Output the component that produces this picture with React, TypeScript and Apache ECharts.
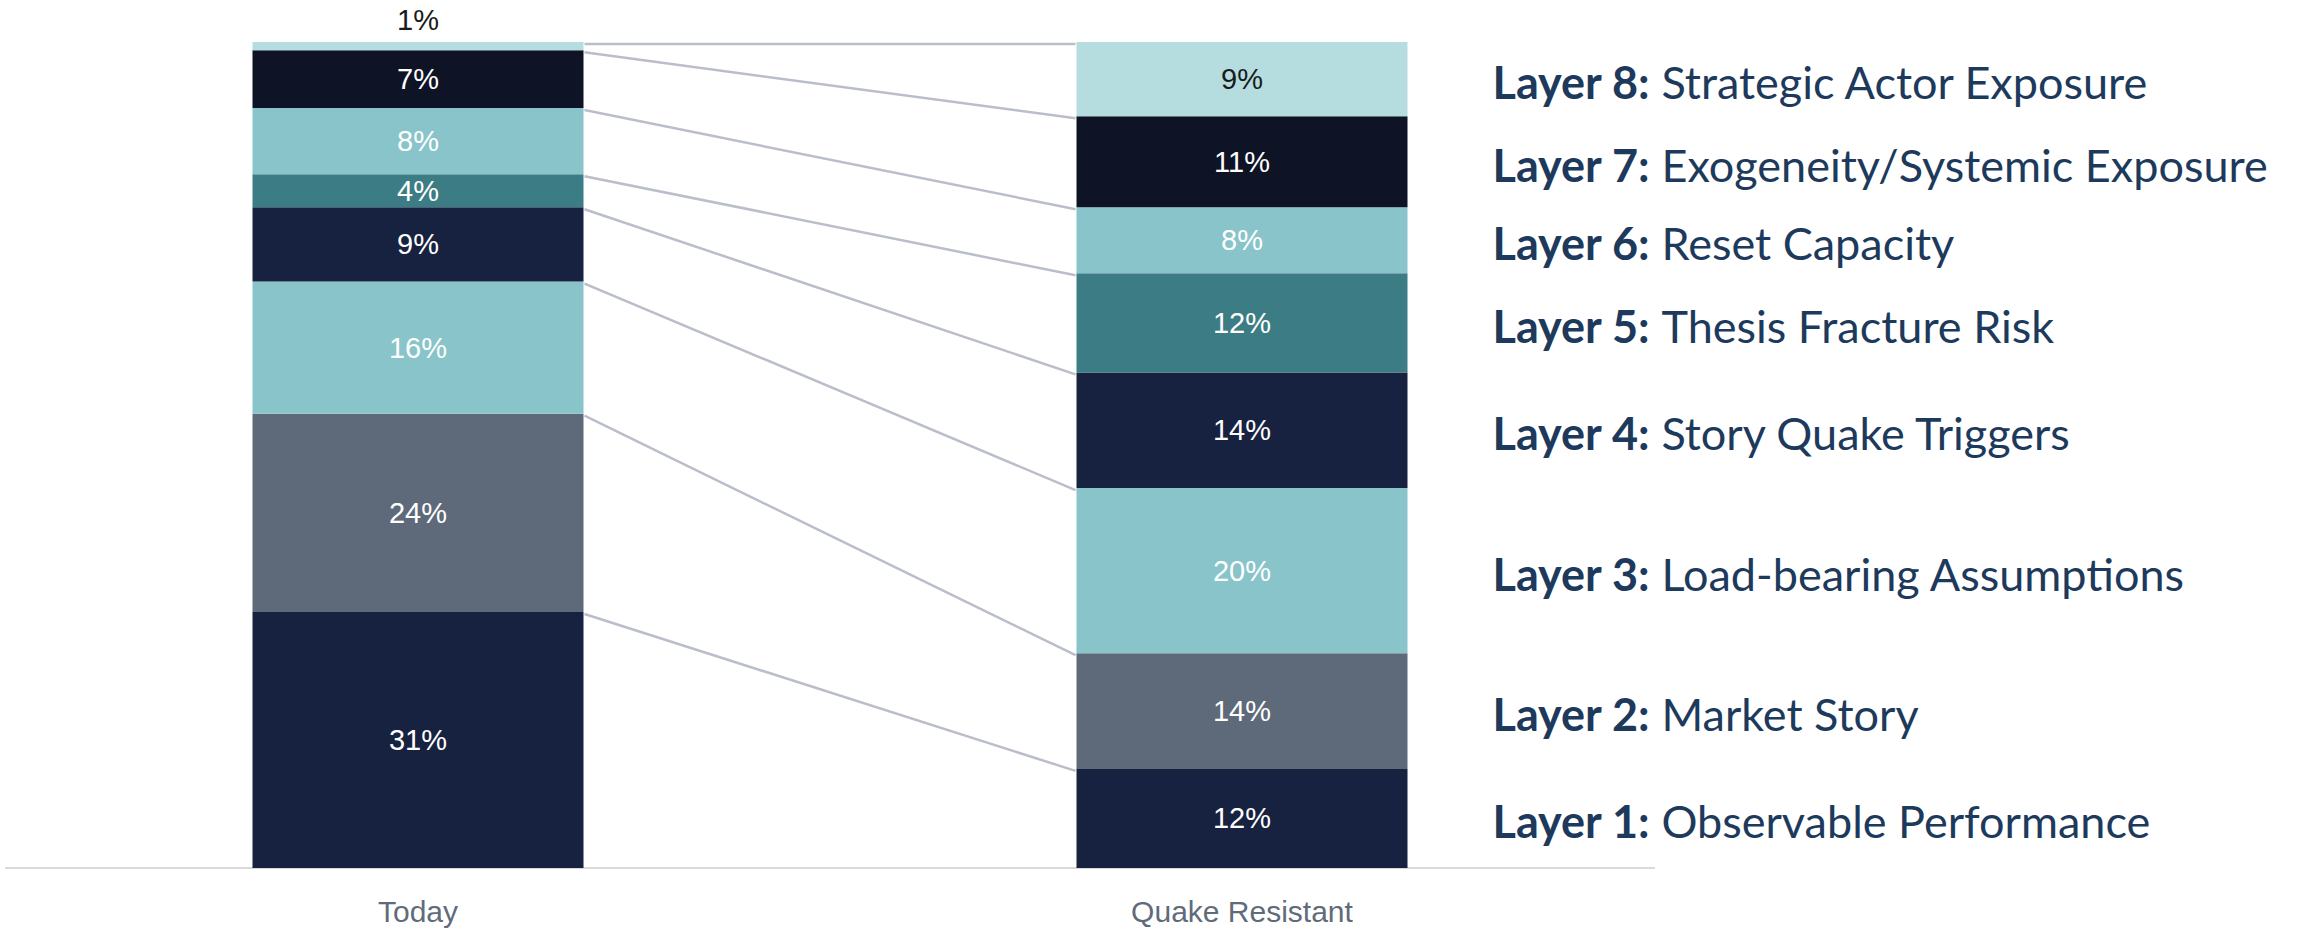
import React, { useEffect, useRef } from "react";
import * as echarts from "echarts";

const categories = ["Today", "Quake Resistant"];
const layerNames = [
  "Observable Performance",
  "Market Story",
  "Load-bearing Assumptions",
  "Story Quake Triggers",
  "Thesis Fracture Risk",
  "Reset Capacity",
  "Exogeneity/Systemic Exposure",
  "Strategic Actor Exposure",
];
const todayValues = [31, 24, 16, 9, 4, 8, 7, 1];
const quakeValues = [12, 14, 20, 14, 12, 8, 11, 9];
const layerColors = [
  "#172140",
  "#5e6a7a",
  "#88c4ca",
  "#172140",
  "#3c7d85",
  "#88c4ca",
  "#0e1326",
  "#b5dde0",
];
const labelColors = ["#ffffff", "#ffffff", "#ffffff", "#ffffff", "#ffffff", "#ffffff", "#ffffff", "#1a1a1a"];

const W = 2308;
const H = 928;
const BAR_W = 331;

export default function App() {
  const ref = useRef<HTMLDivElement>(null);
  useEffect(() => {
    if (!ref.current) return;
    const chart = echarts.init(ref.current, null, { renderer: "svg" });
    const series = layerNames.map((name, i) => ({
      type: "bar",
      name: `Layer ${i + 1}`,
      stack: "total",
      barWidth: BAR_W,
      silent: true,
      itemStyle: { color: layerColors[i] },
      label: {
        show: true,
        position: "inside",
        formatter: "{c}%",
        color: labelColors[i],
        fontSize: 29,
        fontFamily: "Liberation Sans",
      },
      data: [
        i === layerNames.length - 1
          ? { value: todayValues[i], label: { position: "top", distance: 8 } }
          : todayValues[i],
        quakeValues[i],
      ],
    }));
    chart.setOption({
      animation: false,
      grid: { left: 6, right: 654, top: 42, bottom: 60, containLabel: false },
      xAxis: {
        type: "category",
        data: categories,
        axisLine: { lineStyle: { color: "#d9d9d9", width: 2 } },
        axisTick: { show: false },
        axisLabel: {
          color: "#5f6b7a",
          fontSize: 30,
          fontFamily: "Liberation Sans",
          margin: 28,
        },
      },
      yAxis: { type: "value", min: 0, max: 100, show: false },
      series,
    });

    const graphics: any[] = [];
    let cumT = 0;
    let cumQ = 0;
    const half = BAR_W / 2;
    for (let i = 0; i < layerNames.length; i++) {
      cumT += todayValues[i];
      cumQ += quakeValues[i];
      const p1 = chart.convertToPixel({ gridIndex: 0 }, [categories[0], cumT]) as number[];
      const p2 = chart.convertToPixel({ gridIndex: 0 }, [categories[1], cumQ]) as number[];
      graphics.push({
        type: "line",
        silent: true,
        shape: { x1: p1[0] + half + 1, y1: p1[1] + 2, x2: p2[0] - half - 1, y2: p2[1] + 2 },
        style: { stroke: "#babecb", lineWidth: 2.5 },
      });
      const mid = chart.convertToPixel({ gridIndex: 0 }, [categories[1], cumQ - quakeValues[i] / 2]) as number[];
      graphics.push({
        type: "text",
        silent: true,
        x: p2[0] + half + 85,
        y: mid[1] + 3,
        style: {
          text: `{b|Layer ${i + 1}:\u00a0}{r|${layerNames[i]}}`,
          verticalAlign: "middle",
          align: "left",
          rich: {
            b: { fontFamily: "Lato", fontWeight: "bold", fontSize: 45, fill: "#1d3a5c" },
            r: { fontFamily: "Lato", fontWeight: "normal", fontSize: 45, fill: "#1d3a5c" },
          },
        },
      });
    }
    chart.setOption({ graphic: graphics });
    return () => chart.dispose();
  }, []);
  return (
    <div
      ref={ref}
      style={{ position: "fixed", left: 0, top: 0, width: W, height: H, background: "#ffffff" }}
    />
  );
}
